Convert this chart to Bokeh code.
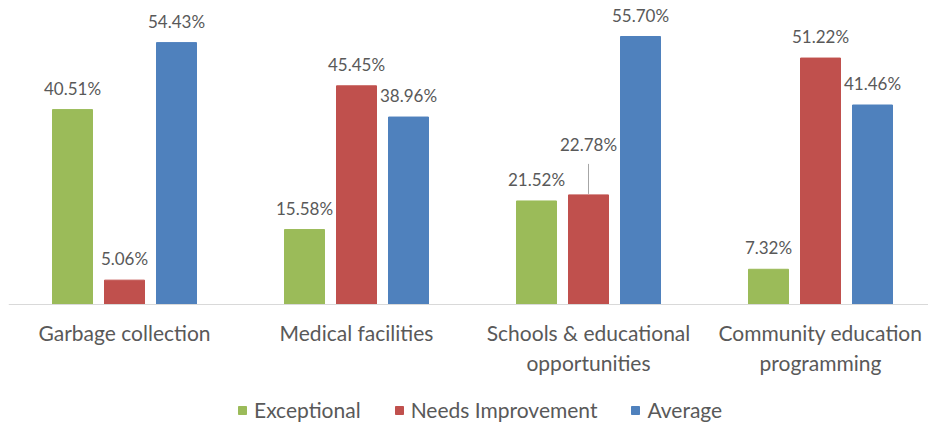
from bokeh.plotting import figure
from bokeh.models import Range1d, ColumnDataSource, Legend, LegendItem, Span
from bokeh.transform import dodge
from bokeh.embed import file_html
from bokeh.resources import INLINE

categories = ["Garbage collection", "Medical facilities",
              "Schools & educational\nopportunities", "Community education\nprogramming"]
series = ["Exceptional", "Needs Improvement", "Average"]
exceptional = [40.51, 15.58, 21.52, 7.32]
needs_improvement = [5.06, 45.45, 22.78, 51.22]
average = [54.43, 38.96, 55.70, 41.46]
colors = ["#9BBB59", "#C0504D", "#4F81BD"]

FONT = "Lato"
TXT = "#595959"

W, H = 928, 425
left = 8
base_px = 304                 # baseline position from top
px_per = 268 / 55.7           # pixels per percentage point
cat_px = 232                  # pixels per category slot

x_start = -0.5
x_end = (W - left) / cat_px - 0.5
y_end = base_px / px_per
y_start = y_end - H / px_per

p = figure(width=W, height=H, output_backend="svg", toolbar_location=None,
           x_range=Range1d(x_start, x_end), y_range=Range1d(y_start, y_end),
           min_border_left=left, min_border_right=0, min_border_top=0, min_border_bottom=0)
p.outline_line_color = None
p.grid.visible = False
p.axis.visible = False
p.background_fill_color = "white"
p.border_fill_color = "white"

xs = list(range(len(categories)))
src = ColumnDataSource(dict(x=xs, e=exceptional, n=needs_improvement, a=average,
                            el=[f"{v:.2f}%" for v in exceptional],
                            nl=[f"{v:.2f}%" for v in needs_improvement],
                            al=[f"{v:.2f}%" for v in average],
                            cat=categories, zero=[0] * len(xs)))

# baseline (category axis line)
p.add_layout(Span(location=0, dimension="width", line_color="#D9D9D9", line_width=1))

bw = 40 / cat_px
off = 52 / cat_px
cols = ["e", "n", "a"]
labs = ["el", "nl", "al"]
offsets = [-off, 0, off]
renderers = []
for c, col, o in zip(cols, colors, offsets):
    r = p.vbar(x=dodge("x", o, range=p.x_range), top=c, width=bw, bottom=0, source=src,
               fill_color=col, line_color=col)
    renderers.append(r)

# value labels (the Schools "Needs Improvement" label is lifted with a leader line)
lift = (1, 2)
for ci, (c, l, o) in enumerate(zip(cols, labs, offsets)):
    vals = src.data[c]
    lbls = src.data[l]
    for i in range(len(vals)):
        lifted = (ci, i) == lift
        p.text(x=[i + o], y=[vals[i]], text=[lbls[i]], text_align="center",
               text_baseline="bottom", y_offset=-40 if lifted else -11,
               text_font={"value": FONT}, text_font_size="17px", text_color=TXT)
        if lifted:
            p.segment(x0=[i + o], y0=[vals[i] + 1 / px_per], x1=[i + o],
                      y1=[vals[i] + 31 / px_per], line_color="#A6A6A6", line_width=1)

# category labels
p.text(x="x", y="zero", text="cat", source=src, text_align="center", text_baseline="top",
       y_offset=15, text_font={"value": FONT}, text_font_size="21px", text_color=TXT,
       text_line_height=1.21)

legend = Legend(items=[LegendItem(label=s, renderers=[r]) for s, r in zip(series, renderers)],
                orientation="horizontal", location=(237 - left, 3),
                label_text_font=FONT, label_text_font_size="21px", label_text_color=TXT,
                glyph_width=10, glyph_height=10, label_standoff=7, spacing=33,
                padding=0, margin=0,
                border_line_color=None, background_fill_alpha=0)
p.add_layout(legend, "center")

open("out.html", "w").write(file_html(p, INLINE))
